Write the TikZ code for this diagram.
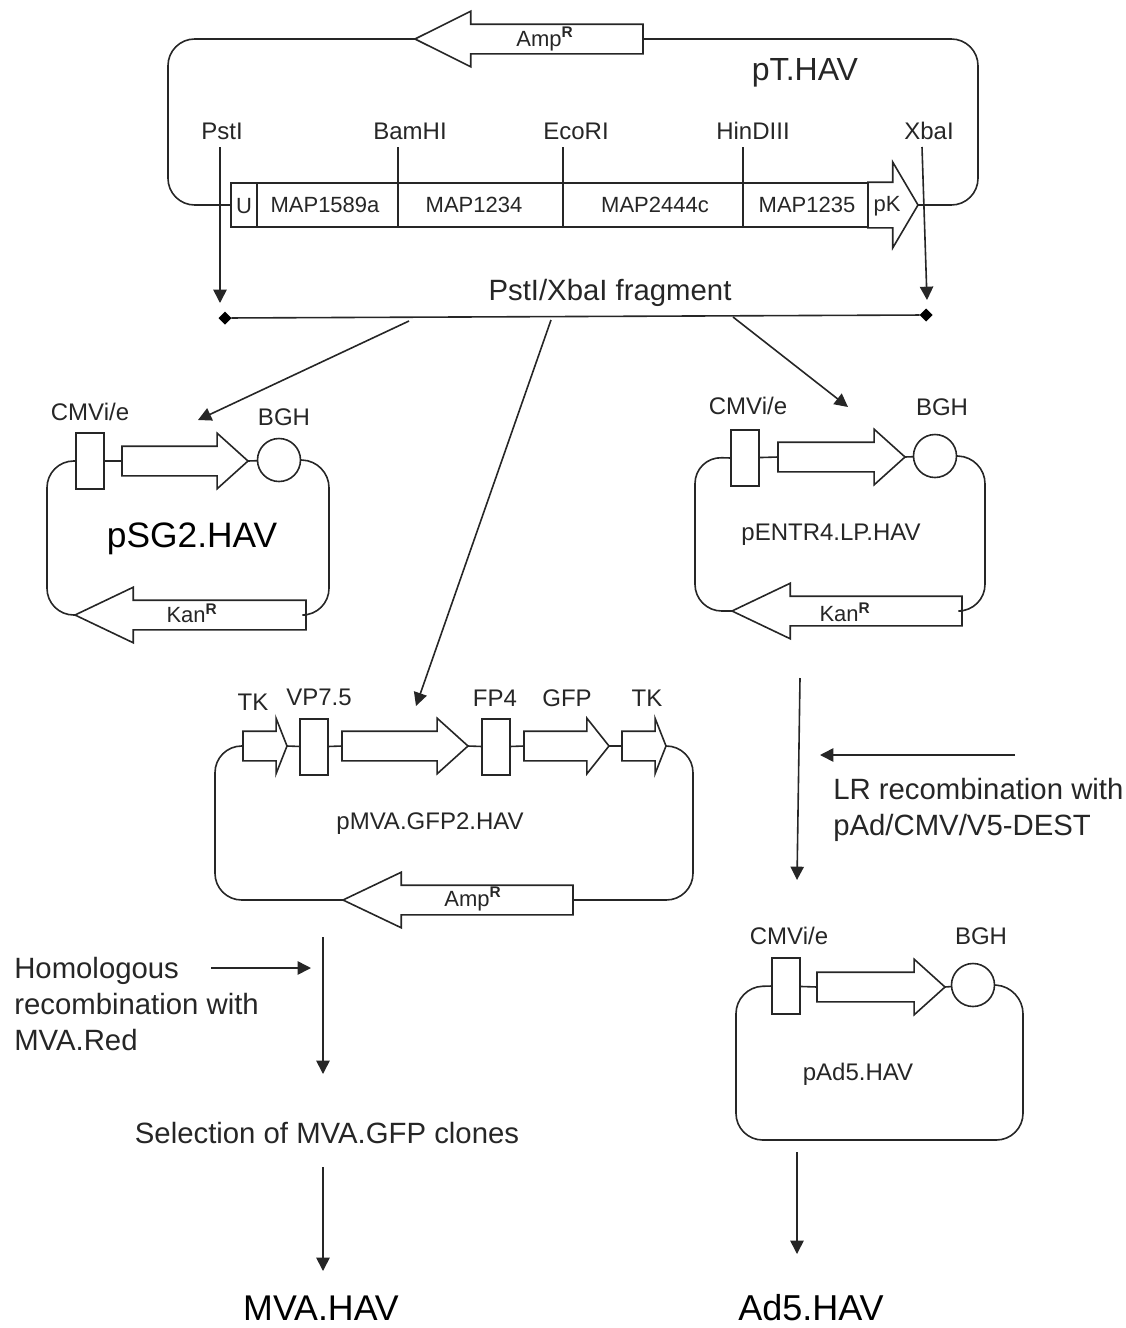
\documentclass[tikz,border=0pt]{standalone}
\usepackage{fontspec}
\setmainfont{Liberation Sans}
\usetikzlibrary{arrows.meta,shapes.arrows,shapes.geometric}

\def\px{0.75pt}
\tikzset{
    wire/.style={line width=1.2pt, black!85},
    loopwire/.style={wire, rounded corners=20pt},
    flow/.style={wire, -{Triangle[length=10pt,width=10pt]}},
    gene/.style={draw=black!85, line width=1.2pt, single arrow, anchor=tail, inner sep=0pt, outer sep=0pt, text height=28*\px, text depth=0pt, single arrow head extend=13*\px},
    leftgene/.style={gene, shape border rotate=180, single arrow head extend=13*\px},
    segment/.style={draw=black!85, line width=1.2pt, rectangle, inner sep=0pt, outer sep=0pt, anchor=west, minimum height=44*\px},
    promoter/.style={draw=black!85, line width=1.2pt, rectangle, inner sep=0pt, outer sep=0pt, minimum width=28*\px, minimum height=56*\px},
    terminator/.style={draw=black!85, line width=1.2pt, circle, inner sep=0pt, outer sep=0pt, minimum size=43*\px},
    endmark/.style={diamond, fill=black, inner sep=0pt, outer sep=0pt, minimum size=13*\px},
    txt/.style={black!85, inner sep=0pt, font=\fontsize{18}{20}\selectfont},
    small/.style={black!85, inner sep=0pt, font=\fontsize{16.5}{18}\selectfont},
    big/.style={black!85, inner sep=0pt, font=\fontsize{22}{27}\selectfont},
    title/.style={black, inner sep=0pt, font=\fontsize{26.5}{28}\selectfont}
}

\begin{document}
\begin{tikzpicture}[x=0.75pt, y=-0.75pt]
    \useasboundingbox (0,0) rectangle (1126,1328);

    % pT.HAV
    \node[leftgene, minimum height=228*\px, single arrow tip angle=53] (ampT) at (643,39) {};
    \node[small] (ampTlabel) at (545,39) {Amp\textsuperscript{\textbf{R}}};
    \node[big, font=\fontsize{24}{26}\selectfont] (pT) at (805,73) {pT.HAV};
    \node[segment, minimum width=26*\px] (segU) at (231,205) {};
    \node[segment, minimum width=141*\px] (segA) at (257,205) {};
    \node[segment, minimum width=165*\px] (segB) at (398,205) {};
    \node[segment, minimum width=180*\px] (segC) at (563,205) {};
    \node[segment, minimum width=125*\px] (segD) at (743,205) {};
    \node[gene, minimum height=50*\px, text height=44*\px, single arrow head extend=20*\px, single arrow tip angle=119] (segK) at (868,205) {};
    \node[small] (labU) at (244,206) {U};
    \node[small] (labA) at (325,205) {MAP1589a};
    \node[small] (labB) at (474,205) {MAP1234};
    \node[small] (labC) at (655,205) {MAP2444c};
    \node[small] (labD) at (807,205) {MAP1235};
    \node[small] (labK) at (887,206) {pK};
    \coordinate (tNE) at (978,39);
    \coordinate (tSE) at (978,205);
    \coordinate (tNW) at (168,39);
    \coordinate (tSW) at (168,205);
    \draw[loopwire] (ampT.tail) -- (tNE) -- (tSE) -- (segK.tip);
    \draw[loopwire] (ampT.tip) -- (tNW) -- (tSW) -- (segU.west);

    % Restriction sites
    \node[txt] (pst) at (222,131) {PstI};
    \node[txt] (bam) at (410,131) {BamHI};
    \node[txt] (eco) at (576,131) {EcoRI};
    \node[txt] (hin) at (753,131) {HinDIII};
    \node[txt] (xba) at (929,131) {XbaI};
    \coordinate (bamTick) at (398,147);
    \coordinate (ecoTick) at (563,147);
    \coordinate (hinTick) at (743,147);
    \draw[wire] (bamTick) -- (segB.north west);
    \draw[wire] (ecoTick) -- (segC.north west);
    \draw[wire] (hinTick) -- (segD.north west);

    % PstI/XbaI fragment
    \node[big] (frag) at (610,293) {PstI/XbaI fragment};
    \node[endmark] (fragL) at (225,318) {};
    \node[endmark] (fragR) at (926,315) {};
    \draw[wire] (fragL) -- (fragR);
    \coordinate (pstTop) at (220,147);
    \coordinate (pstEnd) at (220,303);
    \coordinate (xbaTop) at (922,147);
    \coordinate (xbaEnd) at (927,300);
    \draw[flow] (pstTop) -- (pstEnd);
    \draw[flow] (xbaTop) -- (xbaEnd);
    \coordinate (fragA) at (409,321);
    \coordinate (fragB) at (551,320);
    \coordinate (fragC) at (733,317);
    \coordinate (sgIn) at (198,420);
    \coordinate (mvaIn) at (416,706);
    \coordinate (entrIn) at (848,407);
    \draw[flow] (fragA) -- (sgIn);
    \draw[flow] (fragB) -- (mvaIn);
    \draw[flow] (fragC) -- (entrIn);

    % pSG2.HAV
    \node[promoter] (cmvS) at (90,461) {};
    \node[gene, minimum height=126*\px, single arrow tip angle=84] (havS) at (122,461) {};
    \node[terminator] (bghS) at (279,460) {};
    \node[leftgene, minimum height=231*\px, single arrow tip angle=51] (kanS) at (306,615) {};
    \node[txt] (cmvSlabel) at (90,412) {CMVi/e};
    \node[txt] (bghSlabel) at (284,417) {BGH};
    \node[small] (kanSlabel) at (192,613) {Kan\textsuperscript{\textbf{R}}};
    \node[title] (sg) at (192,539) {pSG2.HAV};
    \coordinate (sNE) at (329,461);
    \coordinate (sSE) at (329,615);
    \coordinate (sNW) at (47,461);
    \coordinate (sSW) at (47,615);
    \draw[wire] (cmvS) -- (havS.tail);
    \draw[wire] (havS.tip) -- (bghS);
    \draw[loopwire] (bghS.east) -- (sNE) -- (sSE) -- (kanS.tail);
    \draw[loopwire] (kanS.tip) -- (sSW) -- (sNW) -- (cmvS.west);

    % pENTR4.LP.HAV
    \node[promoter] (cmvE) at (745,458) {};
    \node[gene, minimum height=127*\px, single arrow tip angle=84] (havE) at (778,457) {};
    \node[terminator] (bghE) at (935,456) {};
    \node[leftgene, minimum height=230*\px, single arrow tip angle=51] (kanE) at (962,611) {};
    \node[txt] (cmvElabel) at (748,406) {CMVi/e};
    \node[txt] (bghElabel) at (942,407) {BGH};
    \node[small] (kanElabel) at (845,612) {Kan\textsuperscript{\textbf{R}}};
    \node[txt] (entr) at (831,535) {pENTR4.LP.HAV};
    \coordinate (eNE) at (985,457);
    \coordinate (eSE) at (985,611);
    \coordinate (eNW) at (695,457);
    \coordinate (eSW) at (695,611);
    \draw[wire] (cmvE) -- (havE.tail);
    \draw[wire] (havE.tip) -- (bghE);
    \draw[loopwire] (bghE.east) -- (eNE) -- (eSE) -- (kanE.tail);
    \draw[loopwire] (kanE.tip) -- (eSW) -- (eNW) -- (cmvE.west);

    % pMVA.GFP2.HAV
    \node[gene, minimum height=44*\px, single arrow tip angle=137] (tkA) at (243,746) {};
    \node[promoter] (vp) at (314,747) {};
    \node[gene, minimum height=126*\px, single arrow tip angle=84] (havM) at (342,746) {};
    \node[promoter] (fp) at (496,747) {};
    \node[gene, minimum height=85*\px, single arrow tip angle=103] (gfp) at (524,746) {};
    \node[gene, minimum height=44*\px, single arrow tip angle=137] (tkB) at (622,746) {};
    \node[leftgene, minimum height=230*\px, single arrow tip angle=51] (ampM) at (573,900) {};
    \node[txt] (tkAlabel) at (253,702) {TK};
    \node[txt] (vplabel) at (319,697) {VP7.5};
    \node[txt] (fplabel) at (495,698) {FP4};
    \node[txt] (gfplabel) at (567,698) {GFP};
    \node[txt] (tkBlabel) at (647,698) {TK};
    \node[small] (ampMlabel) at (473,899) {Amp\textsuperscript{\textbf{R}}};
    \node[txt] (mva) at (430,824) {pMVA.GFP2.HAV};
    \coordinate (mNE) at (693,746);
    \coordinate (mSE) at (693,900);
    \coordinate (mNW) at (215,746);
    \coordinate (mSW) at (215,900);
    \draw[wire] (tkA.tip) -- (vp);
    \draw[wire] (vp) -- (havM.tail);
    \draw[wire] (havM.tip) -- (fp);
    \draw[wire] (fp) -- (gfp.tail);
    \draw[wire] (gfp.tip) -- (tkB.tail);
    \draw[loopwire] (tkB.tip) -- (mNE) -- (mSE) -- (ampM.tail);
    \draw[loopwire] (ampM.tip) -- (mSW) -- (mNW) -- (tkA.tail);

    % pAd5.HAV
    \node[promoter] (cmvA) at (786,986) {};
    \node[gene, minimum height=128*\px, single arrow tip angle=84] (havA) at (817,987) {};
    \node[terminator] (bghA) at (973,985) {};
    \node[txt] (cmvAlabel) at (789,936) {CMVi/e};
    \node[txt] (bghAlabel) at (981,936) {BGH};
    \node[txt] (ad) at (858,1074) {pAd5.HAV};
    \coordinate (aNE) at (1023,987);
    \coordinate (aSE) at (1023,1140);
    \coordinate (aNW) at (736,987);
    \coordinate (aSW) at (736,1140);
    \draw[wire] (cmvA) -- (havA.tail);
    \draw[wire] (havA.tip) -- (bghA);
    \draw[loopwire] (bghA.east) -- (aNE) -- (aSE) -- (aSW) -- (aNW) -- (cmvA.west);

    % Right branch
    \coordinate (entrOut) at (800,678);
    \coordinate (adIn) at (797,880);
    \coordinate (lrStart) at (1015,755);
    \coordinate (lrEnd) at (820,755);
    \coordinate (adOut) at (797,1152);
    \coordinate (adEnd) at (797,1254);
    \draw[flow] (entrOut) -- (adIn);
    \draw[flow] (lrStart) -- (lrEnd);
    \draw[flow] (adOut) -- (adEnd);
    \node[big, anchor=west, align=left] (lr) at (833,810) {LR recombination with\\pAd/CMV/V5-DEST};
    \node[title, font=\fontsize{27}{29}\selectfont] (adhav) at (811,1308) {Ad5.HAV};

    % Left branch
    \coordinate (mvaOut) at (323,937);
    \coordinate (selIn) at (323,1074);
    \coordinate (homStart) at (211,968);
    \coordinate (homEnd) at (311,968);
    \coordinate (selOut) at (323,1167);
    \coordinate (selEnd) at (323,1271);
    \draw[flow] (mvaOut) -- (selIn);
    \draw[flow] (homStart) -- (homEnd);
    \draw[flow] (selOut) -- (selEnd);
    \node[big, anchor=west, align=left] (hom) at (14,1004) {Homologous\\recombination with\\MVA.Red};
    \node[big] (sel) at (327,1133) {Selection of MVA.GFP clones};
    \node[title, font=\fontsize{26.8}{28}\selectfont] (mvahav) at (321,1308) {MVA.HAV};
\end{tikzpicture}
\end{document}
